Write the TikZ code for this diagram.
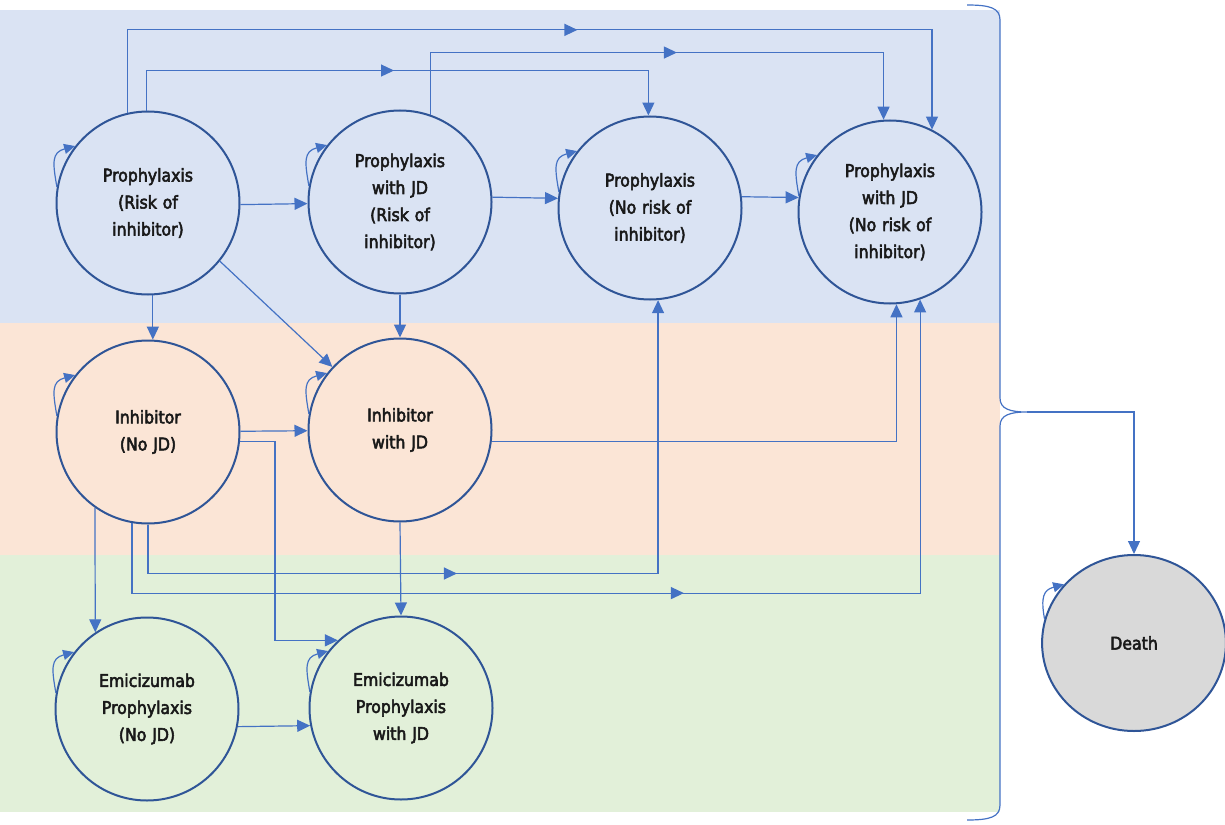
\documentclass[tikz,border=0pt]{standalone}
\usepackage{fontspec}
\setmainfont{DejaVu Sans Condensed}
\newfontfamily\statefont{DejaVu Sans Condensed}[FakeBold=3]
\usepackage{tikz}
\usetikzlibrary{arrows.meta,positioning,shapes.geometric,decorations.markings}
\definecolor{bandblue}{HTML}{DAE3F3}
\definecolor{bandorange}{HTML}{FBE5D6}
\definecolor{bandgreen}{HTML}{E2F0D9}
\definecolor{rim}{HTML}{2F5597}
\definecolor{wire}{HTML}{4472C4}
\definecolor{deadgray}{HTML}{D9D9D9}
\tikzset{
    >={Triangle[length=13pt,width=12pt]},
    state/.style={
      circle,
      draw=rim, line width=2pt,
      minimum size=183pt,
      inner sep=0pt,
      text width=130pt,
      align=center,
      text=black!90,
      font=\statefont\fontsize{17.5}{27}\selectfont},
    flow/.style={draw=wire, line width=1.2pt, ->},
    selfloop/.style={draw=wire, line width=1.2pt, -{Triangle[length=11pt,width=10pt]},
      out=100, in=195, looseness=1.4},
    midarrow/.style={postaction={decorate},
      decoration={markings, mark=at position #1 with {\arrow{>}}}},
}

\begin{document}
\begin{tikzpicture}[x=1pt,y=-1pt]
    \useasboundingbox (0,0) rectangle (1225,824);
    % bands
    \fill[bandblue]   (0,10)  rectangle (1000,323);
    \fill[bandorange] (0,323) rectangle (1000,555);
    \fill[bandgreen]  (0,555) rectangle (1000,812);

    \node[state] (proRisk)     at (148,203) {Prophylaxis\\(Risk of\\inhibitor)};
    \node[state] (proJDRisk)   at (400,202) {Prophylaxis\\with JD\\(Risk of\\inhibitor)};
    \node[state] (proNoRisk)   at (650,208) {Prophylaxis\\(No risk of\\inhibitor)};
    \node[state] (proJDNoRisk) at (890,212) {Prophylaxis\\with JD\\(No risk of\\inhibitor)};
    \node[state] (inhib)       at (148,432) {Inhibitor\\(No JD)};
    \node[state] (inhibJD)     at (400,430) {Inhibitor\\with JD};
    \node[state] (emi)         at (147,709) {Emicizumab\\Prophylaxis\\(No JD)};
    \node[state] (emiJD)       at (401,708) {Emicizumab\\Prophylaxis\\with JD};
    \node[state, ellipse, minimum width=182pt, minimum height=176pt, fill=deadgray]
        (death) at (1134,643) {Death};

    % self transitions
    \foreach \s in {proRisk,proJDRisk,proNoRisk,proJDNoRisk,inhib,inhibJD,emi,emiJD}
        \draw[selfloop] (\s.170) to (\s.142);
    \draw[selfloop] (death.165) to (death.140);

    % top row and jumps over it
    \draw[flow] (proRisk.-1) -- (proJDRisk.181);
    \draw[flow] (proJDRisk.3) -- (proNoRisk.174);
    \draw[flow] (proNoRisk.7) -- (proJDNoRisk.171);
    \draw[flow, midarrow=0.54] (proRisk.103) -- ++(0,-83) -| (proJDNoRisk.63);
    \draw[flow, midarrow=0.49] (proRisk.91) -- ++(0,-40) -| (proNoRisk.91);
    \draw[flow, midarrow=0.53] (proJDRisk.71) -- ++(0,-62) -| (proJDNoRisk.94);

    % down into the inhibitor states
    \draw[flow] (proRisk.-87) -- (inhib.87);
    \draw[flow] (proRisk.-39) -- (inhibJD.137);
    \draw[flow] (proJDRisk.south) -- (inhibJD.north);
    \draw[flow] (inhib) -- (inhibJD);
    \draw[flow] (inhibJD.-7) -| (proJDNoRisk.-86);
    \draw[flow] (inhib.-6) -- ++(35,0) |- (emiJD.133);
    \draw[flow, midarrow=0.43] (inhib.south) -- ++(0,49) -| (proNoRisk.-85);
    \draw[flow, midarrow=0.54] (inhib.-100) -- ++(0,70) -| (proJDNoRisk.-71);

    % emicizumab
    \draw[flow] (inhib.-125) -- (emi.124);
    \draw[flow] (inhibJD.south) -- (emiJD.north);
    \draw[flow] (emi.-11) -- (emiJD.191);

    % everyone can die
    \draw[wire, line width=1.2pt] (967,5) .. controls (990,5) and (1000,8) .. (1000,20)
        -- (1000,398) .. controls (1000,409) and (1010,412) .. (1027,412) coordinate (braceTip)
        .. controls (1010,412) and (1000,415) .. (1000,426)
        -- (1000,805) .. controls (1000,817) and (990,820) .. (967,820);
    \draw[flow] (braceTip) -| (death.north);
\end{tikzpicture}
\end{document}
